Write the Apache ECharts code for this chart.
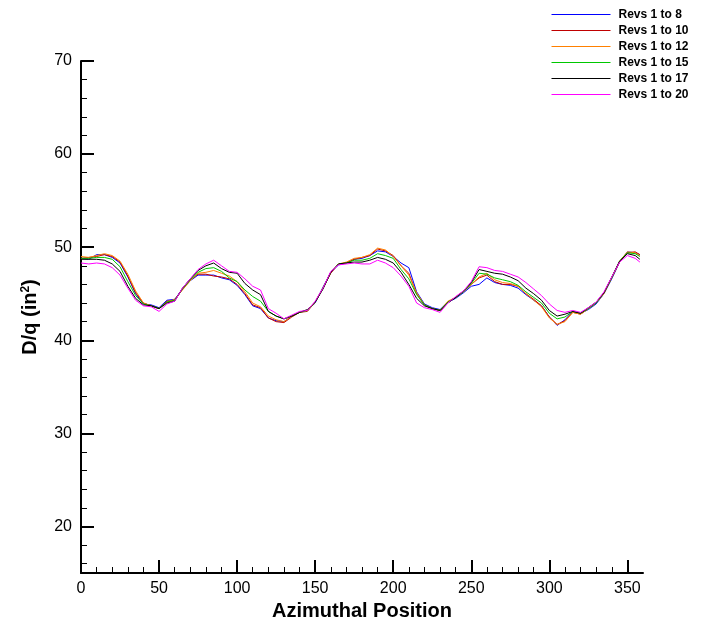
<!DOCTYPE html>
<html>
<head>
<meta charset="utf-8">
<script src="https://cdn.jsdelivr.net/npm/echarts@6/dist/echarts.min.js"></script>
<style>
html,body{margin:0;padding:0;background:#fff;}
#chart{width:704px;height:627px;}
</style>
</head>
<body>
<div id="chart"></div>
<script>
const azimuth = [0,5,10,15,20,25,30,35,40,45,50,55,60,65,70,75,80,85,90,95,100,105,110,115,120,125,130,135,140,145,150,155,160,165,170,175,180,185,190,195,200,205,210,215,220,225,230,235,240,245,250,255,260,265,270,275,280,285,290,295,300,305,310,315,320,325,330,335,340,345,350,355,358];

const revs1to8 = [48.8,48.7,49.2,49.2,48.9,48.3,46.8,45.0,43.9,43.8,43.5,44.3,44.4,45.5,46.4,47.0,47.0,47.0,46.7,46.5,45.9,44.9,43.7,43.4,42.4,42.1,42.0,42.6,43.0,43.2,44.0,45.7,47.3,48.1,48.3,48.7,48.8,49.1,49.6,49.5,49.0,48.3,47.8,45.2,43.9,43.5,43.3,44.1,44.5,45.1,45.8,46.0,46.7,46.2,46.0,45.9,45.6,44.9,44.3,43.7,42.5,41.6,42.2,43.1,42.9,43.3,43.9,45.0,46.6,48.4,49.5,49.4,49.2];
const revs1to10 = [48.8,48.9,49.0,49.2,49.0,48.4,46.9,45.1,44.0,43.7,43.4,44.2,44.3,45.5,46.5,47.1,47.1,46.9,46.8,46.6,46.0,45.0,43.8,43.5,42.4,42.0,41.9,42.5,43.0,43.1,44.1,45.6,47.2,48.2,48.3,48.7,48.9,49.1,49.8,49.6,49.1,48.0,47.2,45.0,43.8,43.4,43.2,44.1,44.6,45.2,46.0,46.7,47.0,46.3,46.0,46.0,45.8,45.0,44.4,43.7,42.5,41.7,42.1,43.0,42.8,43.4,44.0,45.1,46.7,48.4,49.4,49.5,49.2];
const revs1to12 = [49.0,48.9,49.1,49.3,49.1,48.5,47.1,45.3,44.0,43.7,43.4,44.1,44.4,45.4,46.4,47.2,47.3,47.5,47.2,46.9,46.3,45.2,44.0,43.6,42.6,42.2,42.0,42.6,43.0,43.2,44.1,45.6,47.3,48.2,48.4,48.8,48.9,49.2,49.9,49.7,49.0,48.0,47.0,45.1,43.8,43.4,43.2,44.2,44.6,45.3,46.0,46.8,47.2,46.5,46.2,46.1,45.8,45.0,44.3,43.6,42.4,41.7,42.0,43.0,42.8,43.4,44.0,45.0,46.7,48.5,49.5,49.4,49.1];
const revs1to15 = [48.8,48.8,48.9,48.9,48.7,47.9,46.3,44.8,43.9,43.7,43.4,44.1,44.3,45.5,46.5,47.3,47.7,47.8,47.4,46.7,46.3,45.4,44.7,44.2,43.1,42.6,42.3,42.6,43.0,43.2,44.1,45.6,47.3,48.2,48.3,48.6,48.6,48.8,49.3,49.1,48.8,47.6,46.6,44.9,43.8,43.4,43.2,44.1,44.6,45.2,46.1,47.2,47.1,46.7,46.5,46.3,45.9,45.2,44.6,44.0,42.9,42.3,42.5,43.1,42.9,43.4,44.0,45.1,46.7,48.5,49.4,49.3,49.0];
const revs1to17 = [48.7,48.7,48.7,48.6,48.2,47.4,45.8,44.5,43.8,43.7,43.4,44.0,44.2,45.6,46.6,47.5,48.0,48.3,47.7,47.3,47.2,46.1,45.4,44.9,43.1,42.6,42.3,42.6,43.0,43.3,44.1,45.5,47.3,48.2,48.3,48.4,48.4,48.6,48.9,48.7,48.3,47.3,46.0,44.5,43.7,43.4,43.2,44.0,44.6,45.3,46.2,47.6,47.4,47.2,47.1,46.8,46.4,45.6,45.0,44.3,43.2,42.6,42.8,43.1,42.9,43.5,44.1,45.1,46.8,48.5,49.3,49.1,48.7];
const revs1to20 = [48.3,48.2,48.3,48.2,47.8,47.0,45.6,44.3,43.7,43.6,43.1,43.9,44.2,45.6,46.6,47.6,48.2,48.6,48.0,47.4,47.3,46.6,45.8,45.4,43.4,42.9,42.3,42.7,43.1,43.2,44.2,45.6,47.4,48.1,48.2,48.3,48.2,48.2,48.6,48.3,47.8,46.9,45.8,44.0,43.5,43.3,43.0,44.0,44.7,45.3,46.3,47.9,47.8,47.5,47.4,47.1,46.8,46.2,45.5,44.8,43.9,43.2,43.0,43.2,43.0,43.5,44.1,45.2,46.8,48.4,49.1,48.8,48.4];

const seriesNames = ['Revs 1 to 8','Revs 1 to 10','Revs 1 to 12','Revs 1 to 15','Revs 1 to 17','Revs 1 to 20'];
const seriesValues = [revs1to8, revs1to10, revs1to12, revs1to15, revs1to17, revs1to20];
const seriesColors = ['#0000ff','#c00000','#ff8000','#00c800','#000000','#ff00ff'];

const xMajorTicks = [0,50,100,150,200,250,300,350];
const xMinorTicks = [10,20,30,40,60,70,80,90,110,120,130,140,160,170,180,190,210,220,230,240,260,270,280,290,310,320,330,340];
const yMajorTicks = [20,30,40,50,60,70];
const yMinorTicks = [16,18,22,24,26,28,32,34,36,38,42,44,46,48,52,54,56,58,62,64,66,68];

const chart = echarts.init(document.getElementById('chart'), null, {renderer:'canvas'});
const font = 'Liberation Sans, Arial, sans-serif';

chart.setOption({
  animation: false,
  backgroundColor: '#ffffff',
  grid: {left: 81, right: 61, top: 61, bottom: 54},
  legend: {
    orient: 'vertical',
    left: 551,
    top: 8.5,
    padding: 0,
    itemWidth: 59,
    itemHeight: 12,
    itemGap: 4,
    data: seriesNames,
    itemStyle: {opacity: 0},
    lineStyle: {width: 1},
    textStyle: {fontFamily: font, fontWeight: 'bold', fontSize: 12, color: '#000', padding: [0,0,0,3]}
  },
  xAxis: [{
    type: 'value', min: 0, max: 360,
    name: 'Azimuthal Position', nameLocation: 'middle', nameGap: 25,
    nameTextStyle: {fontFamily: font, fontWeight: 'bold', fontSize: 20, color: '#000'},
    axisLine: {show: true, lineStyle: {color: '#000', width: 2}},
    axisTick: {show: true, inside: true, length: 13, lineStyle: {color: '#000', width: 2}, customValues: xMajorTicks},
    axisLabel: {fontFamily: font, fontSize: 16, color: '#000', margin: 8, customValues: xMajorTicks},
    splitLine: {show: false}
  },{
    type: 'value', min: 0, max: 360, position: 'bottom',
    axisLine: {show: false},
    axisTick: {show: true, inside: true, length: 6, lineStyle: {color: '#000', width: 1}, customValues: xMinorTicks},
    axisLabel: {show: false},
    splitLine: {show: false}
  }],
  yAxis: [{
    type: 'value', min: 15, max: 70,
    name: 'D/q (in{sup|2})', nameLocation: 'middle', nameGap: 41, nameRotate: 90,
    nameTextStyle: {fontFamily: font, fontWeight: 'bold', fontSize: 20, color: '#000',
      rich: {sup: {fontFamily: font, fontWeight: 'bold', fontSize: 12, color: '#000', verticalAlign: 'top', padding: [0,0,8,0]}}},
    axisLine: {show: true, lineStyle: {color: '#000', width: 2}},
    axisTick: {show: true, inside: true, length: 13, lineStyle: {color: '#000', width: 2}, customValues: yMajorTicks},
    axisLabel: {fontFamily: font, fontSize: 16, color: '#000', margin: 9, customValues: yMajorTicks},
    splitLine: {show: false}
  },{
    type: 'value', min: 15, max: 70, position: 'left',
    axisLine: {show: false},
    axisTick: {show: true, inside: true, length: 6, lineStyle: {color: '#000', width: 1}, customValues: yMinorTicks},
    axisLabel: {show: false},
    splitLine: {show: false}
  }],
  series: seriesNames.map((name, i) => ({
    name: name,
    type: 'line',
    xAxisIndex: 0,
    yAxisIndex: 0,
    symbol: 'none',
    showSymbol: false,
    color: seriesColors[i],
    lineStyle: {width: 1, color: seriesColors[i]},
    data: azimuth.map((x, j) => [x, seriesValues[i][j]])
  }))
});
</script>
</body>
</html>
